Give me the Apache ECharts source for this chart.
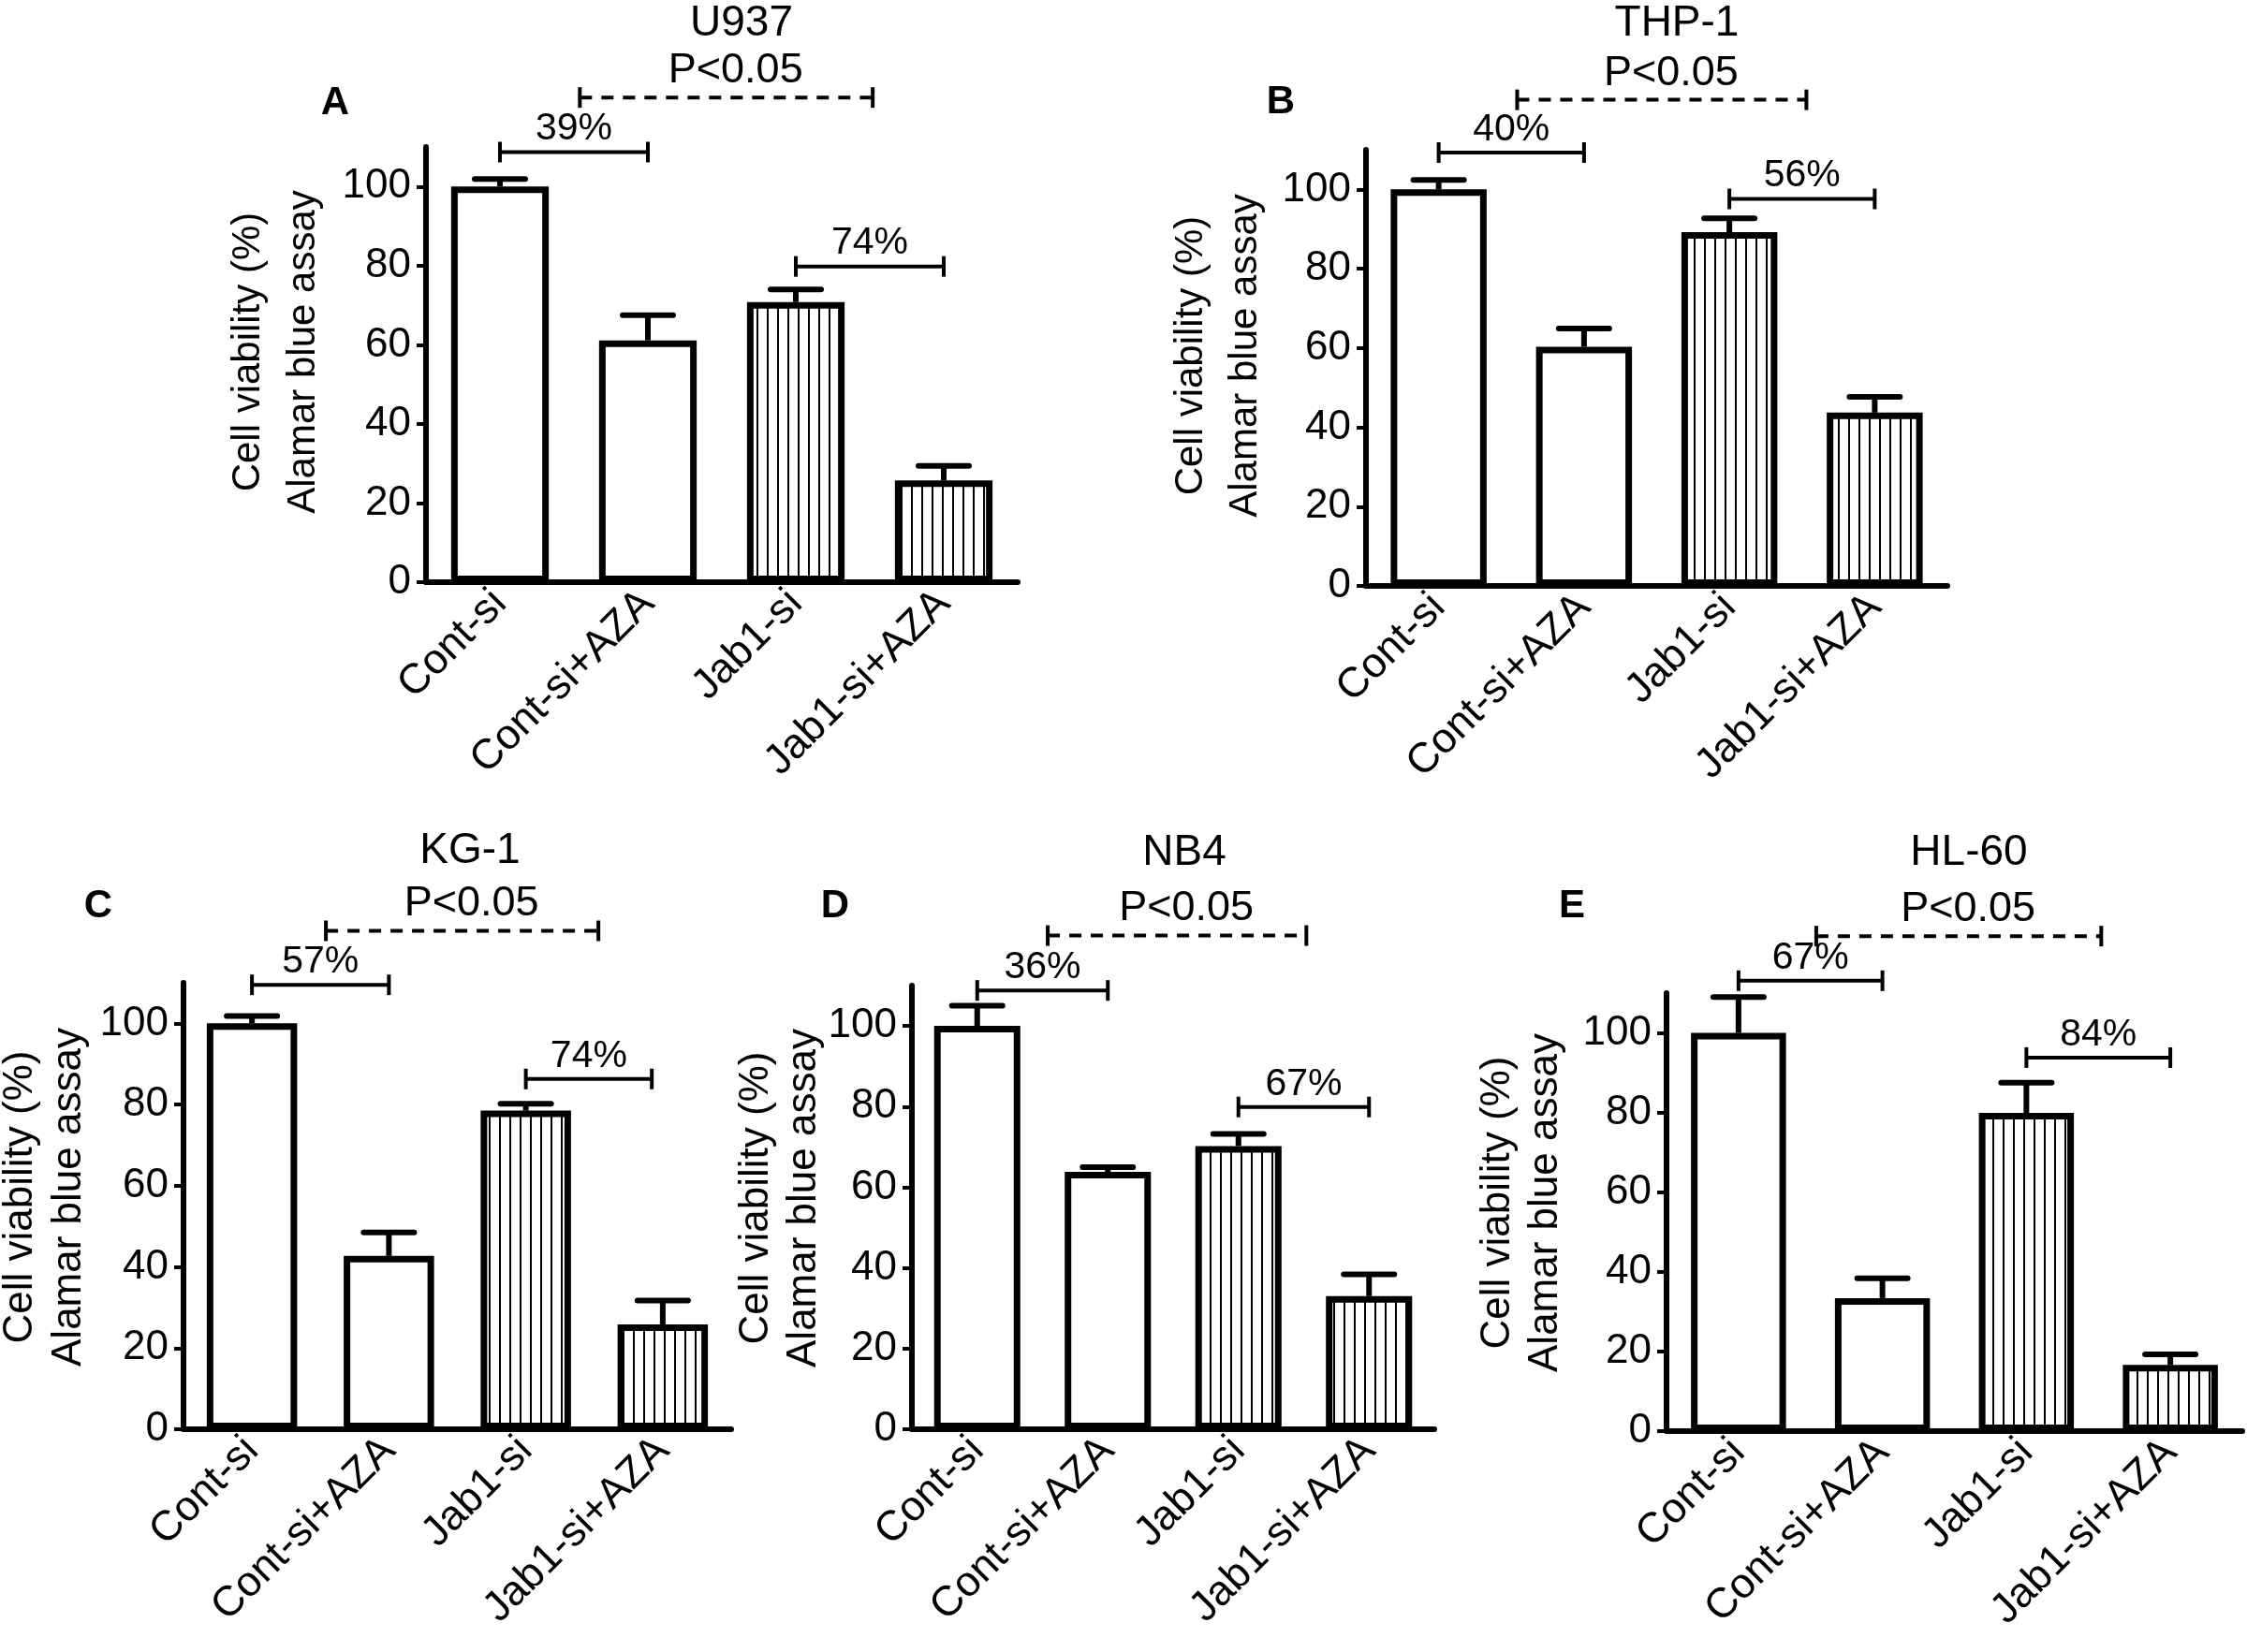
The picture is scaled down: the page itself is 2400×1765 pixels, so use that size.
<!DOCTYPE html>
<html>
<head>
<meta charset="utf-8">
<title>Cell viability - Alamar blue assay</title>
<script src="https://cdn.jsdelivr.net/npm/echarts@6/dist/echarts.min.js"></script>
<style>
  html, body { margin: 0; padding: 0; background: #fff; }
  #main { width: 2400px; height: 1765px; }
</style>
</head>
<body>
<div id="main"></div>
<script>
var FONT = '"Liberation Sans", Arial, Helvetica, sans-serif';

var categories = ['Cont-si', 'Cont-si+AZA', 'Jab1-si', 'Jab1-si+AZA'];
var cellLines = ['U937', 'THP-1', 'KG-1', 'NB4', 'HL-60'];
var panelLetters = ['A', 'B', 'C', 'D', 'E'];
var yTicks = [0, 20, 40, 60, 80, 100];
var yNameLines = ['Cell viability (%)', 'Alamar blue assay'];

// mean viability (%), one array per cell line
var meanU937 = [100, 61.1, 70.8, 25.7];
var meanTHP1 = [100, 60.3, 89.2, 43.7];
var meanKG1 = [100, 42.7, 78.5, 25.8];
var meanNB4 = [100, 63.8, 70.2, 33.0];
var meanHL60 = [100, 33.4, 79.9, 16.6];

// upper error bar
var errU937 = [1.9, 6.4, 3.2, 3.7];
var errTHP1 = [2.4, 4.6, 3.5, 4.0];
var errKG1 = [1.8, 5.8, 1.7, 5.9];
var errNB4 = [5.0, 1.2, 3.0, 5.4];
var errHL60 = [9.0, 5.0, 7.6, 2.7];

// brackets: reduction labels and the height they sit at
var leftPct = ['39%', '40%', '57%', '36%', '67%'];
var leftBracketY = [108.7, 109.3, 109.5, 108.8, 113.1];
var rightPct = ['74%', '56%', '74%', '67%', '84%'];
var rightBracketY = [79.8, 97.6, 86.3, 79.9, 93.8];
var rightBracketEnd = [3, 3, 2.92, 3, 3];
var pLabel = 'P<0.05';
var pBracketY = [122.5, 122.6, 122.8, 122.4, 124.3];
var pBracketFrom = [0.54, 0.54, 0.54, 0.54, 0.54];
var pBracketTo = [2.52, 2.53, 2.53, 2.52, 2.52];

var means = [meanU937, meanTHP1, meanKG1, meanNB4, meanHL60];
var errs = [errU937, errTHP1, errKG1, errNB4, errHL60];

// layout of the five panels (px)
var grids = [
  {left: 455, top: 157, width: 632, height: 465},
  {left: 1459, top: 160, width: 621, height: 466},
  {left: 196, top: 1050, width: 585, height: 477},
  {left: 974, top: 1053, width: 558, height: 474},
  {left: 1780, top: 1061, width: 615, height: 468}
];
var titlePos = [[792, 25], [1791, 25], [502, 909], [1265, 911], [2103, 911]];
var letterPos = [[358, 110], [1368, 109], [105, 968], [892, 968], [1679, 968]];
// y-axis title: x of each line, common vertical centre, font size
var yNamePos = [
  {x: [265, 324], y: 376, size: 42},
  {x: [1272, 1330], y: 380, size: 42},
  {x: [22, 74], y: 1279, size: 44},
  {x: [808, 859], y: 1280, size: 44},
  {x: [1600, 1651], y: 1285, size: 44}
];

// vertical hatch used for the Jab1 bars
var hatch = document.createElement('canvas');
hatch.width = 11;
hatch.height = 11;
var hctx = hatch.getContext('2d');
hctx.fillStyle = '#fff';
hctx.fillRect(0, 0, 11, 11);
hctx.fillStyle = '#000';
hctx.fillRect(5, 0, 2, 11);

var myChart = echarts.init(document.getElementById('main'), null, {renderer: 'canvas'});

var option = {
  backgroundColor: '#fff',
  animation: false,
  grid: [],
  xAxis: [],
  yAxis: [],
  graphic: [],
  series: []
};

cellLines.forEach(function (name, p) {
  option.grid.push({
    left: grids[p].left, top: grids[p].top,
    width: grids[p].width, height: grids[p].height,
    containLabel: false
  });

  option.xAxis.push({
    gridIndex: p,
    type: 'category',
    data: categories,
    axisLine: {lineStyle: {color: '#000', width: 6}},
    axisTick: {alignWithLabel: true, length: 11, lineStyle: {color: '#000', width: 4}},
    axisLabel: {rotate: 45, fontSize: 45, color: '#000', fontFamily: FONT, margin: 16},
    splitLine: {show: false}
  });

  option.yAxis.push({
    gridIndex: p,
    type: 'value',
    min: 0,
    max: 110,
    interval: 20,
    axisLine: {show: true, lineStyle: {color: '#000', width: 6}},
    axisTick: {show: true, length: 10, customValues: yTicks, lineStyle: {color: '#000', width: 4}},
    axisLabel: {fontSize: 44, color: '#000', fontFamily: FONT, margin: 16, customValues: yTicks},
    splitLine: {show: false}
  });

  option.series.push({
    type: 'bar',
    xAxisIndex: p,
    yAxisIndex: p,
    barWidth: '66%',
    data: means[p].map(function (v, i) {
      return {
        value: v,
        itemStyle: {
          color: i >= 2 ? {image: hatch, repeat: 'repeat'} : '#fff',
          borderColor: '#000',
          borderWidth: 7
        }
      };
    })
  });

  // error bars (upper side only)
  option.series.push({
    type: 'custom',
    xAxisIndex: p,
    yAxisIndex: p,
    z: 3,
    data: means[p].map(function (v, i) { return [i, v, errs[p][i]]; }),
    renderItem: function (params, api) {
      var base = api.coord([api.value(0), api.value(1)]);
      var top = api.coord([api.value(0), api.value(1) + api.value(2)]);
      var half = 27;
      return {
        type: 'group',
        children: [
          {type: 'line', shape: {x1: base[0], y1: base[1], x2: top[0], y2: top[1]},
            style: {stroke: '#000', lineWidth: 6}},
          {type: 'line', shape: {x1: top[0] - half, y1: top[1], x2: top[0] + half, y2: top[1]},
            style: {stroke: '#000', lineWidth: 6, lineCap: 'round'}}
        ]
      };
    }
  });

  // comparison brackets above the bars
  var brackets = [
    {from: 0, to: 1, y: leftBracketY[p], text: leftPct[p], dashed: false},
    {from: 2, to: rightBracketEnd[p], y: rightBracketY[p], text: rightPct[p], dashed: false},
    {from: pBracketFrom[p], to: pBracketTo[p], y: pBracketY[p], text: pLabel, dashed: true}
  ];
  option.series.push({
    type: 'custom',
    xAxisIndex: p,
    yAxisIndex: p,
    clip: false,
    z: 4,
    data: brackets.map(function (b) { return [0, b.y]; }),
    renderItem: function (params, api) {
      var b = brackets[params.dataIndex];
      var origin = api.coord([0, api.value(1)]);
      var band = api.size([1, 0])[0];
      var x1 = origin[0] + b.from * band;
      var x2 = origin[0] + b.to * band;
      var y = origin[1];
      var lineStyle = {stroke: '#000', lineWidth: 4};
      var hStyle = b.dashed ? {stroke: '#000', lineWidth: 4, lineDash: [13, 10]} : lineStyle;
      return {
        type: 'group',
        children: [
          {type: 'line', shape: {x1: x1, y1: y, x2: x2, y2: y}, style: hStyle},
          {type: 'line', shape: {x1: x1, y1: y - 11, x2: x1, y2: y + 11}, style: lineStyle},
          {type: 'line', shape: {x1: x2, y1: y - 11, x2: x2, y2: y + 11}, style: lineStyle},
          {type: 'text', style: {
            text: b.text,
            x: (x1 + x2) / 2 + (b.dashed ? 10 : 0),
            y: y - (b.dashed ? 6 : 4),
            align: 'center',
            verticalAlign: 'bottom',
            fontSize: b.dashed ? 45 : 41,
            fontFamily: FONT,
            fill: '#000'
          }}
        ]
      };
    }
  });

  option.graphic.push({
    type: 'text',
    x: titlePos[p][0],
    y: titlePos[p][1],
    style: {text: name, align: 'center', verticalAlign: 'middle', fontSize: 46, fontFamily: FONT, fill: '#000'}
  });
  option.graphic.push({
    type: 'text',
    x: letterPos[p][0],
    y: letterPos[p][1],
    style: {text: panelLetters[p], align: 'center', verticalAlign: 'middle', fontSize: 42,
      fontWeight: 'bold', fontFamily: FONT, fill: '#000'}
  });
  yNameLines.forEach(function (line, k) {
    option.graphic.push({
      type: 'text',
      x: yNamePos[p].x[k],
      y: yNamePos[p].y,
      rotation: Math.PI / 2,
      style: {text: line, align: 'center', verticalAlign: 'middle', fontSize: yNamePos[p].size,
        fontFamily: FONT, fill: '#000'}
    });
  });
});

myChart.setOption(option);
</script>
</body>
</html>
